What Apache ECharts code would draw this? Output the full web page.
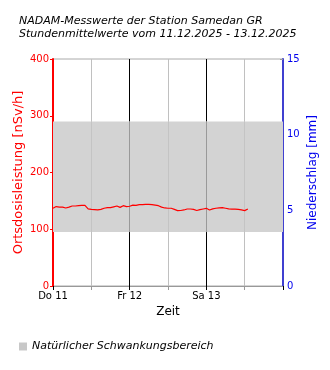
<!DOCTYPE html>
<html><head><meta charset="utf-8">
<script src="https://cdn.jsdelivr.net/npm/echarts@6/dist/echarts.min.js"></script>
<style>html,body{margin:0;padding:0;background:#fff}#c{width:330px;height:370px}</style>
</head><body><div id="c"></div>
<script>
// Hourly mean dose rate (nSv/h) from 11.12.2025 00:00, one value per hour
const doseValues = [137,140,139,139,137.5,139,141,141,141.5,142,142,136,135,134.5,134,135,137,138,138,139.5,
  141,138.6,141.5,140,140.5,142.5,142,143.5,143.5,144,143.9,143.5,142.5,141.5,139,137.5,137,137,135,132.8,
  133,134,135.7,135.7,135,133,134.5,135.7,136.9,134,136,137,137.5,138,137,136,135.5,135.5,135,134,132.8,135.7];
const bandRange = [95, 290];            // natural fluctuation range (nSv/h)
const dayLabels = {0:'Do 11', 24:'Fr 12', 48:'Sa 13'};
const xMaxHours = 72;
const halfDayLines = [12, 36, 60];
const dayLines = [24, 48];

const doseData = doseValues.map((v, i) => [i, v]);
const fnt = 'DejaVu Sans';

const chart = echarts.init(document.getElementById('c'));
chart.setOption({
  animation: false,
  textStyle: {fontFamily: fnt},
  title: {
    text: 'NADAM-Messwerte der Station Samedan GR\nStundenmittelwerte vom 11.12.2025 - 13.12.2025',
    left: 14, top: 9,
    textStyle: {fontFamily: fnt, fontSize: 11, fontStyle: 'italic', fontWeight: 'normal', color: '#000', lineHeight: 13.5}
  },
  legend: {
    left: 14, top: 336, itemWidth: 8, itemHeight: 8, itemGap: 10,
    icon: 'rect',
    data: ['Natürlicher Schwankungsbereich'],
    textStyle: {fontFamily: fnt, fontSize: 11, fontStyle: 'italic', color: '#000'}
  },
  grid: {left: 53, right: 47, top: 59, bottom: 84, show: true, borderColor: '#aaa', borderWidth: 1, backgroundColor: 'transparent'},
  xAxis: {
    type: 'value', min: 0, max: xMaxHours, interval: 24,
    name: 'Zeit', nameLocation: 'middle', nameGap: 20, nameMoveOverlap: false,
    nameTextStyle: {fontFamily: fnt, fontSize: 12, color: '#000'},
    axisLine: {show: true, lineStyle: {color: '#999', width: 1}},
    axisTick: {show: true, length: 4, lineStyle: {color: '#000'}},
    minorTick: {show: true, splitNumber: 2, length: 4, lineStyle: {color: '#999'}},
    axisLabel: {fontFamily: fnt, fontSize: 10, color: '#000', margin: 5, formatter: v => dayLabels[v] || ''},
    splitLine: {show: true, lineStyle: {color: '#000', width: 1}},
    minorSplitLine: {show: true, lineStyle: {color: '#c0c0c0', width: 1}}
  },
  yAxis: [{
    type: 'value', min: 0, max: 400, interval: 100, position: 'left',
    name: 'Ortsdosisleistung [nSv/h]', nameLocation: 'middle', nameGap: 28, nameMoveOverlap: false,
    nameTextStyle: {fontFamily: fnt, fontSize: 13, color: '#ff0000'},
    axisLine: {show: true, lineStyle: {color: '#ff0000', width: 2}},
    axisTick: {show: true, length: 3, lineStyle: {color: '#ff0000'}},
    axisLabel: {fontFamily: fnt, fontSize: 10, color: '#ff0000', margin: 4},
    splitLine: {show: false}
  }, {
    type: 'value', min: 0, max: 15, interval: 5, position: 'right',
    name: 'Niederschlag [mm]', nameLocation: 'middle', nameGap: 24, nameMoveOverlap: false,
    nameTextStyle: {fontFamily: fnt, fontSize: 12, color: '#0000ee'},
    axisLine: {show: true, lineStyle: {color: '#4040d0', width: 2}},
    axisTick: {show: true, inside: true, length: 3, lineStyle: {color: '#999'}},
    axisLabel: {fontFamily: fnt, fontSize: 10, color: '#0000ee', margin: 4},
    splitLine: {show: false}
  }],
  series: [{
    name: 'Natürlicher Schwankungsbereich',
    type: 'line', data: [], z: 1,
    itemStyle: {color: '#c8c8c8'}, lineStyle: {color: '#c8c8c8'},
    markArea: {silent: true, itemStyle: {color: '#d3d3d3', opacity: 1},
      data: [[{yAxis: bandRange[0]}, {yAxis: bandRange[1]}]]}
  }, {
    name: 'grid-band', type: 'line', data: [], z: 2,
    markLine: {silent: true, symbol: 'none', label: {show: false}, animation: false,
      data: dayLines.map(h => [{coord: [h, bandRange[0]], lineStyle: {color: '#999', width: 1, type: 'solid'}}, {coord: [h, bandRange[1]]}])
        .concat(halfDayLines.map(h => [{coord: [h, bandRange[0]], lineStyle: {color: '#c4c4c4', width: 1, type: 'solid'}}, {coord: [h, bandRange[1]]}]))}
  }, {
    name: 'Ortsdosisleistung', type: 'line', data: doseData, z: 5,
    showSymbol: false, symbol: 'none',
    lineStyle: {color: '#ff0000', width: 1.2}, itemStyle: {color: '#ff0000'}
  }]
});
</script></body></html>
